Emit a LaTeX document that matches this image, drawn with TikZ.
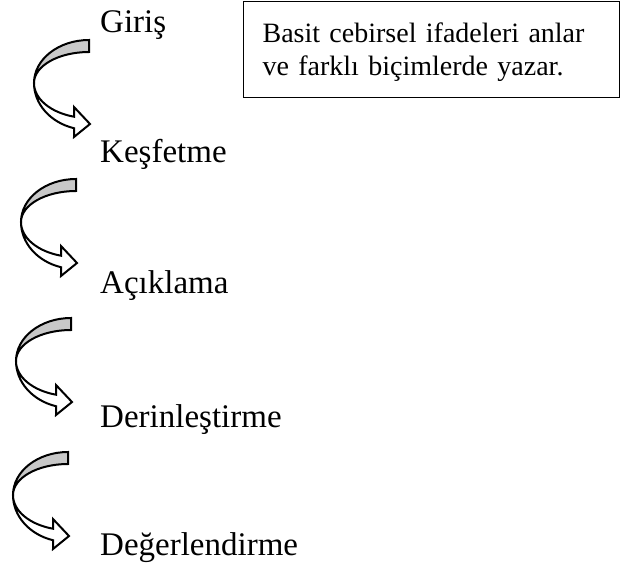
\documentclass[tikz,border=0pt]{standalone}
\usepackage{fontspec}
\setmainfont{Liberation Serif}
\usepackage{tikz}

\definecolor{bandgray}{RGB}{200,200,200}

% curved stage arrow, placed at the centre of its arcs
\newcommand{\bendarrow}[1]{%
	\begin{scope}[shift={(#1)}]
		\filldraw[backband](0,43) arc[start angle=90,end angle=180,x radius=55pt,y radius=43pt]
			arc[start angle=180,end angle=90,x radius=55pt,y radius=31pt] -- cycle;
		\filldraw[frontband](-55,0) arc[start angle=180,end angle=254.2,x radius=55pt,y radius=47pt]
			-- (-15,-54) -- (1,-41) -- (-15,-24) -- (-15,-33.7)
			arc[start angle=254.2,end angle=180,x radius=55pt,y radius=35pt] -- cycle;
	\end{scope}}

\begin{document}
\begin{tikzpicture}[
		x=1pt, y=1pt,
		stage/.style={anchor=base west, inner sep=0pt, font=\fontsize{33}{38}\selectfont},
		goalbox/.style={rectangle, draw=black, line width=1.2pt, minimum width=376pt, minimum height=96pt, inner xsep=19pt, text width=338pt, text depth=33pt, align=left, font=\fontsize{28}{33}\selectfont},
		backband/.style={draw=black, fill=bandgray, line width=2pt, line join=miter},
		frontband/.style={draw=black, fill=white, line width=2pt, line join=miter}
	]
		\useasboundingbox (0,0) rectangle (621,-574);
		
		\node[stage](giris) at (100,-32){Giriş};
		\node[stage](kesfetme) at (100,-162){Keşfetme};
		\node[stage](aciklama) at (100,-293){Açıklama};
		\node[stage](derinlestirme) at (100,-427){Derinleştirme};
		\node[stage](degerlendirme) at (100,-555){Değerlendirme};
		
		\node[goalbox, anchor=north west](kazanim) at (243,-1){Basit cebirsel ifadeleri anlar\\ve farklı biçimlerde yazar.};
		
		% arrows between the stages
		\coordinate (c1) at (89,-83);
		\coordinate (c2) at (76,-222);
		\coordinate (c3) at (71,-361);
		\coordinate (c4) at (68,-495);
		\bendarrow{c1}
		\bendarrow{c2}
		\bendarrow{c3}
		\bendarrow{c4}
	\end{tikzpicture}
\end{document}
